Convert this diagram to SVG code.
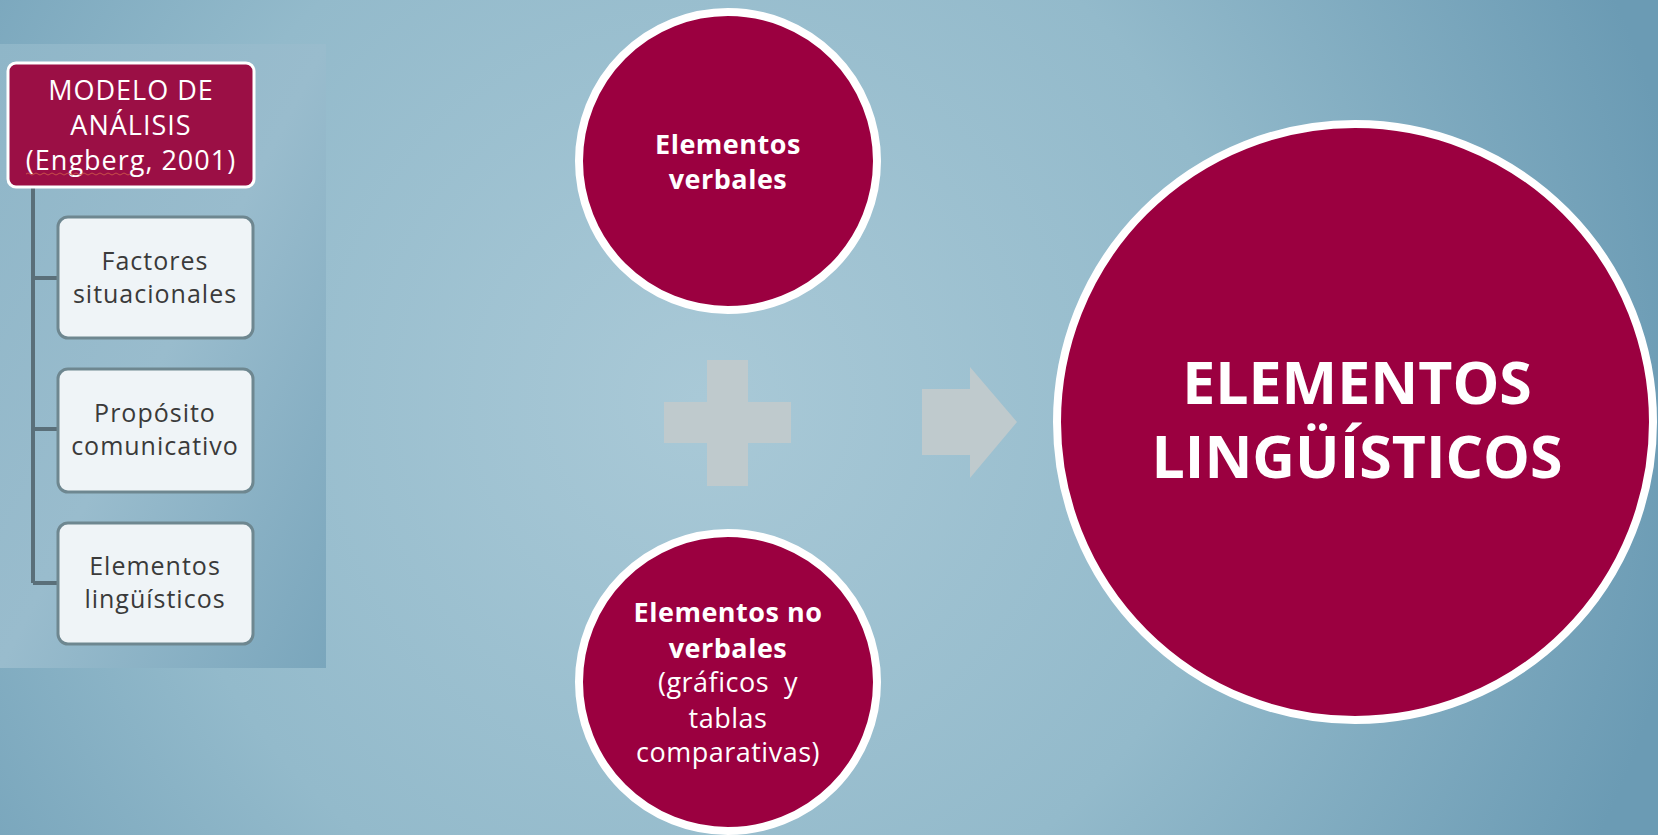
<svg xmlns="http://www.w3.org/2000/svg" width="1658" height="835" viewBox="0 0 1658 835">
<defs>
<radialGradient id="bg" cx="700" cy="400" r="1000" gradientUnits="userSpaceOnUse">
<stop offset="0" stop-color="#a9c9d7"/>
<stop offset="0.55" stop-color="#93bacb"/>
<stop offset="1" stop-color="#6b9bb4"/>
</radialGradient>
<linearGradient id="panel" x1="0" y1="0" x2="1" y2="1">
<stop offset="0" stop-color="#8fb6c8"/>
<stop offset="0.5" stop-color="#99bccd"/>
<stop offset="1" stop-color="#7aa6bc"/>
</linearGradient>
<style>
.sub{fill:#eff4f7;stroke:#6e8790;stroke-width:3}
.subt{font-family:"Open Sans",sans-serif;font-size:25px;letter-spacing:1px;fill:#3a3a3a;text-anchor:middle}
.hdt{font-family:"Open Sans",sans-serif;font-size:27px;letter-spacing:1px;fill:#ffffff;text-anchor:middle}
.circ{fill:#9b0040;stroke:#ffffff;stroke-width:8}
.ct{font-family:"Open Sans",sans-serif;font-size:27px;letter-spacing:0.5px;fill:#ffffff;text-anchor:middle;white-space:pre}
.big{font-family:"Open Sans",sans-serif;font-size:59px;font-weight:bold;fill:#ffffff;text-anchor:middle}
.b{font-weight:bold}
.conn{stroke:#5a6f79;stroke-width:4;fill:none}
.shape{fill:#bfcacd}
</style>
</defs>
<rect width="1658" height="835" fill="url(#bg)"/>
<rect x="0" y="44" width="326" height="624" fill="url(#panel)"/>

<g id="connectors">
<path class="conn" d="M33 187 V583 M33 278 H58 M33 429 H58 M33 583 H58"/>
</g>

<g id="header">
<rect x="8" y="63" width="246" height="124" rx="8" fill="#9b0f45" stroke="#ffffff" stroke-width="3"/>
<text class="hdt" x="131" y="100">MODELO DE</text>
<text class="hdt" x="131" y="135">ANÁLISIS</text>
<text class="hdt" x="131" y="170">(Engberg, 2001)</text>
<path d="M26 174 q2 -2 4 0 t4 0 t4 0 t4 0 t4 0 t4 0 t4 0 t4 0 t4 0 t4 0 t4 0 t4 0 t4 0 t4 0 t4 0 t4 0 t4 0 t4 0 t4 0 t4 0 t4 0 t4 0 t4 0 t4 0 t4 0 t4 0" fill="none" stroke="#c8504a" stroke-width="1"/>
</g>

<g id="factores">
<rect class="sub" x="58" y="217" width="195" height="121" rx="10"/>
<text class="subt" x="155" y="270">Factores</text>
<text class="subt" x="155" y="303">situacionales</text>
</g>

<g id="proposito">
<rect class="sub" x="58" y="369" width="195" height="123" rx="10"/>
<text class="subt" x="155" y="422">Propósito</text>
<text class="subt" x="155" y="455">comunicativo</text>
</g>

<g id="elementos-ling">
<rect class="sub" x="58" y="523" width="195" height="121" rx="10"/>
<text class="subt" x="155" y="575">Elementos</text>
<text class="subt" x="155" y="608">lingüísticos</text>
</g>

<g id="verbales">
<circle class="circ" cx="728" cy="161" r="149"/>
<text class="ct b" x="728" y="154">Elementos</text>
<text class="ct b" x="728" y="189">verbales</text>
</g>

<g id="no-verbales">
<circle class="circ" cx="728" cy="682" r="149"/>
<text class="ct b" x="728" y="622">Elementos no</text>
<text class="ct b" x="728" y="658">verbales</text>
<text class="ct" x="728" y="692" xml:space="preserve">(gráficos  y</text>
<text class="ct" x="728" y="728">tablas</text>
<text class="ct" x="728" y="762">comparativas)</text>
</g>

<g id="plus">
<path class="shape" d="M707 360 H748 V402 H791 V443 H748 V486 H707 V443 H664 V402 H707 Z"/>
</g>

<g id="arrow">
<path class="shape" d="M922 389 H970 V367 L1017 422 L970 478 V455 H922 Z"/>
</g>

<g id="ling">
<circle class="circ" cx="1355" cy="422" r="298"/>
<text class="big" x="1357" y="404">ELEMENTOS</text>
<text class="big" x="1357" y="478">LINGÜÍSTICOS</text>
</g>
</svg>
